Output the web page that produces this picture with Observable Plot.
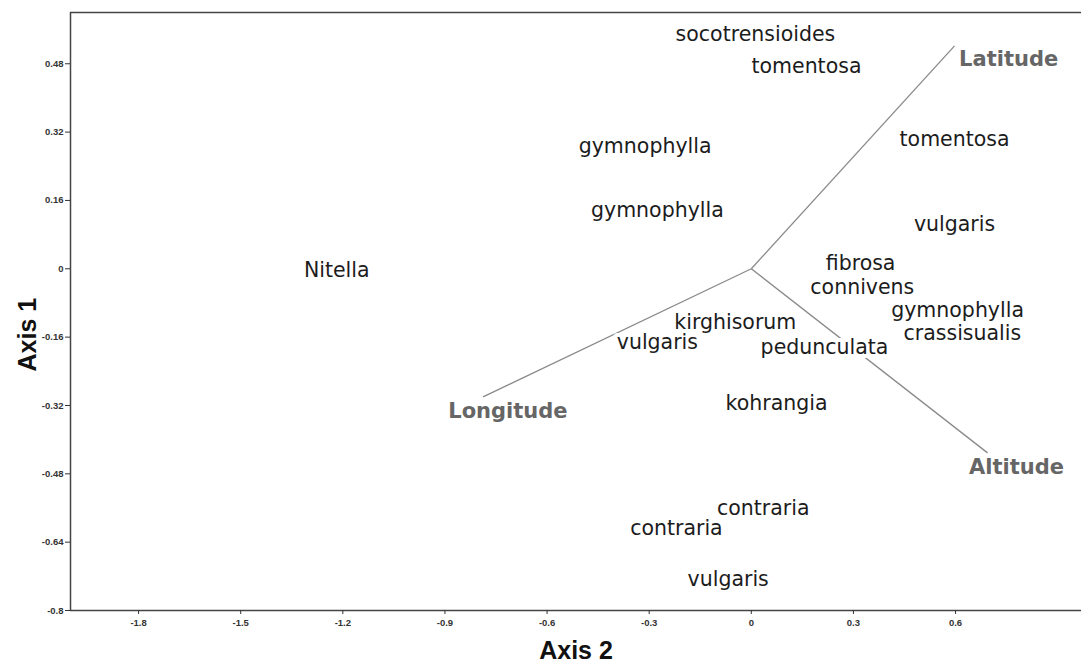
<!DOCTYPE html>
<html><head><meta charset="utf-8">
<script src="https://cdn.jsdelivr.net/npm/d3@7"></script>
<script src="https://cdn.jsdelivr.net/npm/@observablehq/plot@0.6"></script>
<style>body{margin:0;background:#fff}</style>
</head><body><div id="chart"></div>
<script>
// Species scores (Axis 2 = x, Axis 1 = y)
const speciesNames = ["socotrensioides","tomentosa","gymnophylla","gymnophylla","Nitella","tomentosa","vulgaris","fibrosa","connivens","gymnophylla","crassisualis","kirghisorum","vulgaris","pedunculata","kohrangia","contraria","contraria","vulgaris"];
const speciesX = [0.012, 0.162, -0.312, -0.276, -1.218, 0.597, 0.597, 0.321, 0.326, 0.606, 0.620, -0.047, -0.276, 0.215, 0.074, 0.035, -0.220, -0.068];
const speciesY = [0.548, 0.473, 0.286, 0.136, -0.005, 0.302, 0.103, 0.012, -0.043, -0.098, -0.152, -0.126, -0.173, -0.183, -0.316, -0.560, -0.609, -0.728];

// Environmental vectors
const vectorNames = ["Latitude","Longitude","Altitude"];
const vectorX = [0.597, -0.788, 0.694];
const vectorY = [0.522, -0.300, -0.431];
const vectorLabelX = [0.756, -0.715, 0.779];
const vectorLabelY = [0.490, -0.333, -0.464];

const xTicks = [-1.8, -1.5, -1.2, -0.9, -0.6, -0.3, 0, 0.3, 0.6];
const yTicks = [-0.8, -0.64, -0.48, -0.32, -0.16, 0, 0.16, 0.32, 0.48];
const xDomain = [-2.0, 0.97];
const yDomain = [-0.8, 0.6];

const species = speciesNames.map((n, i) => ({name: n, x: speciesX[i], y: speciesY[i]}));
const vectors = vectorNames.map((n, i) => ({name: n, x1: 0, y1: 0, x2: vectorX[i], y2: vectorY[i], lx: vectorLabelX[i], ly: vectorLabelY[i]}));
const fmt = d => String(+d.toFixed(2));

const chart = Plot.plot({
  width: 1081, height: 664,
  marginLeft: 70, marginRight: 0, marginTop: 12, marginBottom: 54,
  x: {domain: xDomain},
  y: {domain: yDomain},
  style: {background: "white", fontFamily: "DejaVu Sans", overflow: "visible"},
  marks: [
    Plot.ruleY([yDomain[1]], {stroke: "#444", strokeWidth: 1.5}),
    Plot.ruleY([yDomain[0]], {stroke: "#444", strokeWidth: 1.5}),
    Plot.ruleX([xDomain[0]], {stroke: "#444", strokeWidth: 1.5}),
    Plot.axisX({ticks: xTicks, tickSize: 4, tickPadding: 5, tickFormat: fmt, fontSize: 9.5, fontWeight: "bold", fontFamily: "Liberation Sans", label: null, color: "#333"}),
    Plot.axisY({ticks: yTicks, tickSize: 5, tickPadding: 2, tickFormat: fmt, fontSize: 9.5, fontWeight: "bold", fontFamily: "Liberation Sans", label: null, color: "#333"}),
    Plot.link(vectors, {x1: "x1", y1: "y1", x2: "x2", y2: "y2", stroke: "#8a8a8a", strokeWidth: 1.3}),
    Plot.text(species, {x: "x", y: "y", text: "name", fontSize: 20.5, fill: "white", stroke: "white", strokeWidth: 8}),
    Plot.text(species, {x: "x", y: "y", text: "name", fontSize: 20.5, fill: "#1c1c1c"}),
    Plot.text(vectors, {x: "lx", y: "ly", text: "name", fontSize: 21, fontWeight: "bold", fill: "#666"}),
    Plot.text(["Axis 2"], {frameAnchor: "bottom", dy: 48, fontSize: 25, fontWeight: "bold", fontFamily: "Liberation Sans Narrow, Liberation Sans", fill: "#111"}),
    Plot.text(["Axis 1"], {frameAnchor: "left", dx: -43, dy: 60, rotate: -90, fontSize: 25, fontWeight: "bold", fontFamily: "Liberation Sans Narrow, Liberation Sans", fill: "#111"})
  ]
});
document.getElementById("chart").append(chart);
</script>
</body></html>
